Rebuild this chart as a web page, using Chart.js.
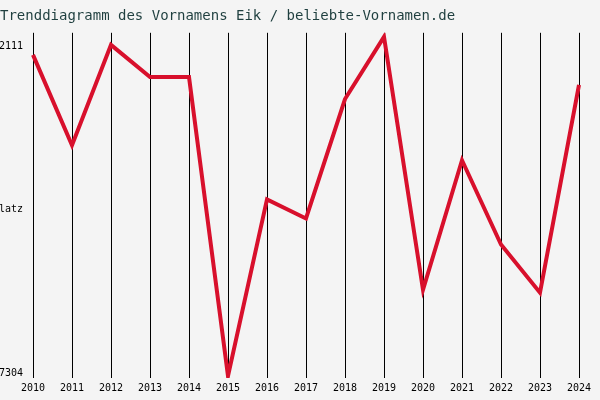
<!DOCTYPE html>
<html><head><script src="https://cdn.jsdelivr.net/npm/chart.js@4"></script>
<style>body{margin:0;background:#f4f4f4}#w{width:600px;height:400px}</style></head>
<body><div id="w"><canvas id="c"></canvas></div>
<script>
const years=["2010","2011","2012","2013","2014","2015","2016","2017","2018","2019","2020","2021","2022","2023","2024"];
const ranks=[2239,3677,2079,2590,2590,7352,4539,4843,2942,1951,5978,3917,5259,6026,2718];
const yTicks=[2111,4707,7304];
const yLabels={2111:"2111",4707:"Platz",7304:"7304"};
new Chart(document.getElementById('c'),{type:'line',
data:{labels:years,datasets:[{data:ranks,borderColor:'#d8102c',borderWidth:4,pointRadius:0,tension:0,fill:false}]},
options:{responsive:true,maintainAspectRatio:false,animation:false,
layout:{padding:{left:0,right:21,top:4,bottom:2}},
plugins:{legend:{display:false},tooltip:{enabled:false},
title:{display:true,text:'Trenddiagramm des Vornamens Eik / beliebte-Vornamen.de',align:'start',color:'#1f3f3f',font:{family:'DejaVu Sans Mono',size:14,weight:'normal'},padding:{top:4,bottom:8}}},
scales:{
x:{offset:false,grid:{color:'#000',drawTicks:false},border:{display:false},ticks:{color:'#000',font:{family:'DejaVu Sans Mono',size:10},maxRotation:0,autoSkip:false,padding:4}},
y:{reverse:true,min:1887,max:7384,afterBuildTicks:a=>{a.ticks=yTicks.map(v=>({value:v}));},
afterFit:s=>{s.width=33;},
grid:{display:false},border:{display:false},
ticks:{color:'#000',font:{family:'DejaVu Sans Mono',size:10},padding:2,mirror:false,callback:v=>yLabels[v]||''}}}}});
</script></body></html>
